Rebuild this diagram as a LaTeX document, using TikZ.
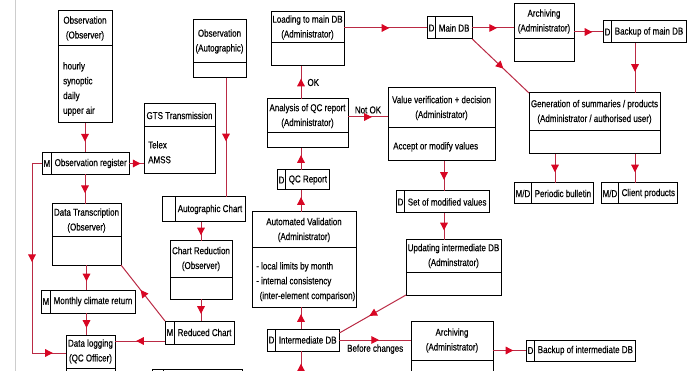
\documentclass[tikz,border=0pt]{standalone}
\usepackage{fontspec}
\setmainfont{Liberation Sans}[FakeStretch=0.8,FakeBold=0.35]
\usetikzlibrary{arrows.meta,positioning,decorations.markings}
\definecolor{flowline}{RGB}{186,42,68}
\definecolor{flowtip}{RGB}{216,6,36}
\definecolor{scanedge}{RGB}{205,205,205}

% box with a title part on top: name, left, top, width, height, title height, title
\newcommand{\procbox}[7]{%
  \node[procframe, minimum width=#4pt, minimum height=#5pt, anchor=north west] (#1) at (#2,#3) {};
  \draw[boxline] ([yshift=-#6pt]#1.north west) -- ([yshift=-#6pt]#1.north east);
  \node[headtext] (#1-head) at ([yshift=-#6pt/2]#1.north) {#7};}

\begin{document}
\begin{tikzpicture}[x=1pt,y=-1pt,
  every node/.style={font=\fontsize{10}{14.8}\selectfont},
  procframe/.style={draw, line width=1pt, inner sep=0pt, outer sep=0pt},
  boxline/.style={line width=1pt},
  headtext/.style={align=center, inner sep=0pt},
  bodytext/.style={align=left, inner sep=0pt, anchor=north west},
  storecell/.style={draw, line width=1pt, minimum height=22pt, inner xsep=1.6pt, inner ysep=0pt, outer sep=0pt, anchor=west},
  storebox/.style={draw, line width=1pt, minimum height=22pt, inner xsep=2.8pt, inner ysep=0pt, outer sep=0pt},
  link/.style={draw=flowline, line width=1pt},
  flow/.style={link, postaction={decorate}, decoration={markings,
    mark=at position 0.5 with {\pgftransformxshift{3.8pt}\arrow{Triangle[length=7.6pt,width=7.6pt,color=flowtip]}}}},
  lbl/.style={inner sep=1pt}]
  \useasboundingbox (0,0) rectangle (690,371);
  \clip (0,0) rectangle (690,371);
  \draw[scanedge, line width=0.6pt] (15,0) -- (15,371);

  % process boxes
  \procbox{obs}{58}{11}{54}{112}{35}{Observation\\(Observer)}
  \node[bodytext] (obs-body) at (63,62) {hourly\\synoptic\\daily\\upper air};
  \procbox{gts}{144}{104}{71}{70}{23}{GTS Transmission}
  \node[bodytext] (gts-body) at (148,141) {Telex\\AMSS};
  \procbox{obsa}{193}{20}{53}{58}{43}{Observation\\(Autographic)}
  \procbox{dtr}{52}{204}{69}{61}{33}{Data Transcription\\(Observer)}
  \procbox{chr}{170}{241}{62}{58}{36}{Chart Reduction\\(Observer)}
  \procbox{dlog}{66}{335}{49}{70}{33}{Data logging\\(QC Officer)}
  \procbox{load}{271}{12}{73}{54}{31}{Loading to main DB\\(Administrator)}
  \procbox{anl}{267}{99}{81}{49}{34}{Analysis of QC report\\(Administrator)}
  \procbox{aval}{252}{212}{104}{95}{36}{Automated Validation\\(Administrator)}
  \node[bodytext] (aval-body) at (256,262) {- local limits by month\\- internal consistency\\\hspace*{3.5pt}(inter-element comparison)};
  \procbox{vv}{388}{88}{107}{73}{40}{Value verification + decision\\(Administrator)}
  \node[bodytext] (vv-body) at (393,142) {Accept or modify values};
  \procbox{upd}{406}{240}{95}{55}{32}{Updating intermediate DB\\(Adminstrator)}
  \procbox{arcm}{514}{4}{60}{58}{35}{Archiving\\(Administrator)}
  \procbox{gen}{529}{93}{131}{61}{38}{Generation of summaries / products\\(Administrator / authorised user)}
  \procbox{arci}{411}{321}{82}{70}{39}{Archiving\\(Administrator)}

  % data stores
  \node[storecell] (reg-c) at (42,163.5) {M};
  \node[storebox, right=0pt of reg-c] (reg) {Observation register};
  \node[storecell, minimum height=23pt] (mcr-c) at (41,301.5) {M};
  \node[storebox, minimum height=23pt, right=0pt of mcr-c] (mcr) {Monthly climate return};
  \node[storecell, minimum height=25pt, minimum width=13pt] (ach-c) at (162,209.5) {};
  \node[storebox, minimum height=25pt, right=0pt of ach-c] (ach) {Autographic Chart};
  \node[storecell, minimum height=23pt] (rch-c) at (165,332.5) {M};
  \node[storebox, minimum height=23pt, right=0pt of rch-c] (rch) {Reduced Chart};
  \node[storecell, minimum height=20pt] (qcr-c) at (277,180) {D};
  \node[storebox, minimum height=20pt, right=0pt of qcr-c] (qcr) {QC Report};
  \node[storecell] (idb-c) at (267,340) {D};
  \node[storebox, right=0pt of idb-c] (idb) {Intermediate DB};
  \node[storecell] (smv-c) at (396,202) {D};
  \node[storebox, right=0pt of smv-c] (smv) {Set of modified values};
  \node[storecell] (mdb-c) at (427,28) {D};
  \node[storebox, right=0pt of mdb-c] (mdb) {Main DB};
  \node[storecell] (bmdb-c) at (603,32) {D};
  \node[storebox, right=0pt of bmdb-c] (bmdb) {Backup of main DB};
  \node[storecell, minimum height=21pt] (pbul-c) at (514,193.5) {M/D};
  \node[storebox, minimum height=21pt, right=0pt of pbul-c] (pbul) {Periodic bulletin};
  \node[storecell, minimum height=21pt] (cprod-c) at (601,193.5) {M/D};
  \node[storebox, minimum height=21pt, right=0pt of cprod-c] (cprod) {Client products};
  \node[storecell, minimum height=21pt] (bidb-c) at (526,350.5) {D};
  \node[storebox, minimum height=21pt, right=0pt of bidb-c] (bidb) {Backup of intermediate DB};
  \node[storecell, minimum width=11pt] (low-c) at (152,380) {};
  \node[storebox, minimum width=79pt, right=0pt of low-c] (low) {};

  % helper points
  \coordinate (colA) at (226,0);
  \coordinate (colM) at (301,0);
  \coordinate (colV) at (444,0);
  \coordinate (colP) at (555,0);
  \coordinate (colR) at (635,0);
  \coordinate (rowNok) at (0,117);
  \coordinate (loopT) at (32,163.5);
  \coordinate (loopB) at (32,353);
  \coordinate (idbin) at (301,384);
  \coordinate (rchout) at ([yshift=3pt]rch-c.south west);
  \coordinate (idbtop) at ([yshift=-4pt]idb.north east);

  % left side
  \draw[flow] (obs.south) -- (obs.south |- reg.north);
  \draw[flow] (reg.east) -- (reg.east -| gts.west);
  \draw[link] (reg-c.west) -- (loopT);
  \draw[flow] (loopT) -- (loopB);
  \draw[flow] (loopB) -- (loopB -| dlog.west);
  \draw[flow] (obs.south |- reg.south) -- (obs.south |- dtr.north);
  \draw[flow] (dtr.south) -- (dtr.south |- mcr.north);
  \draw[flow] (dtr.south |- mcr.south) -- (dtr.south |- dlog.north);
  \draw[flow] (colA |- obsa.south) -- (colA |- ach.north);
  \draw[flow] (chr.north |- ach.south) -- (chr.north);
  \draw[flow] (chr.south) -- (chr.south |- rch.north);
  \draw[flow] (rch-c.north west) -- (dtr.south east);
  \draw[flow] (rchout) -- (rchout -| dlog.east);

  % middle column
  \draw[flow] (idbin) -- (colM |- idb.south);
  \draw[flow] (colM |- idb.north) -- (colM |- aval.south);
  \draw[flow] (colM |- aval.north) -- (colM |- qcr.south);
  \draw[flow] (colM |- qcr.north) -- (colM |- anl.south);
  \draw[flow] (colM |- anl.north) -- (colM |- load.south) node[midway, right=5pt, lbl] {OK};
  \draw[flow] (rowNok -| anl.east) -- (rowNok -| vv.west) node[midway, above=2pt, lbl] {Not OK};
  \draw[flow] (colV |- vv.south) -- (colV |- smv.north);
  \draw[flow] (colV |- smv.south) -- (colV |- upd.north);
  \draw[flow] (upd.south west) -- (idbtop);
  \draw[flow] (idb.east) -- (idb.east -| arci.west) node[midway, below=3pt, lbl] {Before changes};
  \draw[flow] (bidb-c.west -| arci.east) -- (bidb-c.west);

  % top row
  \draw[flow] (mdb-c.west -| load.east) -- (mdb-c.west);
  \draw[flow] (mdb.east) -- (mdb.east -| arcm.west);
  \draw[flow] (bmdb-c.west -| arcm.east) -- (bmdb-c.west);
  \draw[flow] (mdb.south east) -- (gen.north west);
  \draw[flow] (colR |- bmdb.south) -- (colR |- gen.north);
  \draw[flow] (colP |- gen.south) -- (colP |- pbul.north);
  \draw[flow] (colR |- gen.south) -- (colR |- cprod.north);
\end{tikzpicture}
\end{document}
